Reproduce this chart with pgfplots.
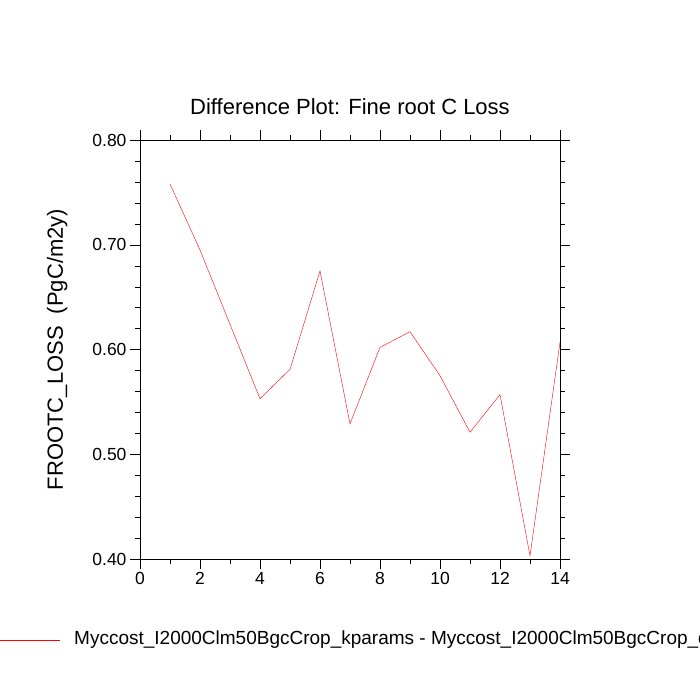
\documentclass[border=0pt]{standalone}
\usepackage{pgfplots}
\pgfplotsset{compat=1.18}
\usepackage{fontspec}
\setmainfont{Liberation Sans}
\begin{document}
\begin{tikzpicture}[x=1pt,y=1pt]
\useasboundingbox (-140,-141) rectangle (560,559);
\begin{axis}[at={(0,0)},anchor=south west,scale only axis,width=420pt,height=419pt,
 xmin=0,xmax=14,ymin=0.4,ymax=0.8,
 xtick={0,2,...,14},ytick={0.4,0.5,0.6,0.7,0.8},
 minor x tick num=1,minor y tick num=4,
 tick align=outside,major tick length=10pt,minor tick length=5pt,
 xtick pos=both,ytick pos=both,
 yticklabel style={/pgf/number format/.cd,fixed,fixed zerofill,precision=2},
 /pgf/number format/assume math mode=true,
 ticklabel style={font=\fontsize{17.5}{20}\selectfont},
 title={\fontsize{22}{26}\selectfont Difference Plot: Fine root C Loss},
 title style={yshift=16pt},
 ylabel={\fontsize{22}{26}\selectfont FROOTC\_LOSS\ \ (PgC/m2y)},
 ylabel style={yshift=18pt},
 axis line style={black},tick style={black}]
\addplot[red,no marks] coordinates {(1,0.758)(2,0.695)(3,0.624)(4,0.553)(5,0.581)(6,0.675)(7,0.529)(8,0.602)(9,0.617)(10,0.575)(11,0.521)(12,0.557)(13,0.403)(14,0.607)};
\end{axis}
\draw[red] (-140,-81) -- (-80,-81);
\node[anchor=west,inner sep=0pt,font=\fontsize{19}{22}\selectfont] at (-66,-81) {Myccost\_I2000Clm50BgcCrop\_kparams - Myccost\_I2000Clm50BgcCrop\_default};
\end{tikzpicture}
\end{document}
